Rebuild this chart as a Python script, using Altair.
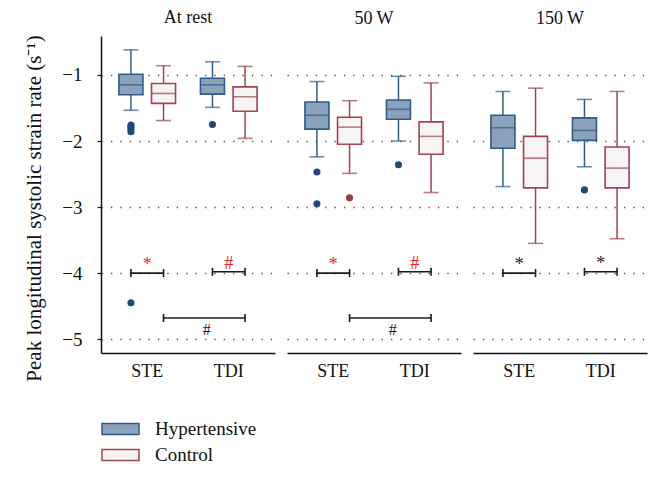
import altair as alt
import pandas as pd

# ---------------- data ----------------
conditions = ["At rest", "50 W", "150 W"]
methods = ["STE", "TDI"]
groups = ["Hypertensive", "Control"]

box_condition = ["At rest"] * 4 + ["50 W"] * 4 + ["150 W"] * 4
box_method = ["STE", "STE", "TDI", "TDI"] * 3
box_group = ["Hypertensive", "Control"] * 6
whisker_low = [-1.535, -1.69, -1.49, -1.96, -2.24, -2.49, -2.00, -2.78, -2.69, -3.55, -2.39, -3.48]
box_q1 = [-1.30, -1.43, -1.29, -1.55, -1.82, -2.05, -1.67, -2.20, -2.11, -2.71, -1.99, -2.71]
box_median = [-1.15, -1.28, -1.15, -1.33, -1.61, -1.79, -1.52, -1.93, -1.80, -2.26, -1.84, -2.41]
box_q3 = [-0.99, -1.13, -1.05, -1.18, -1.41, -1.64, -1.38, -1.71, -1.61, -1.93, -1.65, -2.09]
whisker_high = [-0.62, -0.86, -0.80, -0.87, -1.10, -1.39, -1.02, -1.12, -1.25, -1.20, -1.37, -1.25]

outlier_condition = ["At rest"] * 6 + ["50 W"] * 4 + ["150 W"]
outlier_method = ["STE"] * 5 + ["TDI"] + ["STE", "STE", "STE", "TDI"] + ["TDI"]
outlier_group = ["Hypertensive"] * 6 + ["Hypertensive", "Hypertensive", "Control", "Hypertensive"] + ["Hypertensive"]
outlier_value = [-1.76, -1.79, -1.82, -1.86, -4.45, -1.75, -2.47, -2.95, -2.86, -2.36, -2.74]

# significance: hypertensive vs control within each method
sig_condition = ["At rest", "At rest", "50 W", "50 W", "150 W", "150 W"]
sig_method = ["STE", "TDI", "STE", "TDI", "STE", "TDI"]
sig_symbol = ["*", "#", "*", "#", "*", "*"]
sig_highlight = [True, True, True, True, False, False]
sig_level = [-4.0, -3.98, -4.0, -3.98, -4.0, -3.98]

# significance: STE vs TDI in controls
pair_condition = ["At rest", "50 W"]
pair_symbol = ["#", "#"]
pair_level = [-4.68, -4.68]

# ---------------- tables ----------------
boxes = pd.DataFrame({
    "condition": box_condition, "method": box_method, "group": box_group,
    "low": whisker_low, "q1": box_q1, "median": box_median, "q3": box_q3, "high": whisker_high,
})
outliers = pd.DataFrame({
    "condition": outlier_condition, "method": outlier_method,
    "group": outlier_group, "value": outlier_value,
})
sig_rows = []
for c, m, s, h, lv in zip(sig_condition, sig_method, sig_symbol, sig_highlight, sig_level):
    for g in groups:
        sig_rows.append({"condition": c, "method": m, "group": g, "value": lv,
                         "id": c + m, "symbol": s, "highlight": h})
sig = pd.DataFrame(sig_rows)
pair_rows = []
for c, s, lv in zip(pair_condition, pair_symbol, pair_level):
    for m in methods:
        pair_rows.append({"condition": c, "method": m, "group": "Control", "value": lv,
                          "id": c, "symbol": s})
pairs = pd.DataFrame(pair_rows)

FONT = "Liberation Serif"
STROKE = ["#2f5c8b", "#a3434d"]
FILL = ["#8ca2ba", "#f6f4f4"]
DOT = ["#1d4a76", "#9c3a44"]
RED = "#e8262a"
INK = "#1a1a1a"

y_scale = alt.Scale(domain=[-5.21, -0.41], nice=False, zero=False)
x_scale = alt.Scale(domain=methods, paddingInner=0.6, paddingOuter=0.367)
xo_scale = alt.Scale(domain=groups, paddingInner=1, paddingOuter=0)
stroke_scale = alt.Scale(domain=groups, range=STROKE)
fill_scale = alt.Scale(domain=groups, range=FILL)

is_hyp = alt.datum.group == "Hypertensive"
line_color = alt.condition(is_hyp, alt.value(STROKE[0]), alt.value(STROKE[1]))
dot_color = alt.condition(is_hyp, alt.value(DOT[0]), alt.value(DOT[1]))


def panel(cond, first):
    b = boxes[boxes.condition == cond]
    o = outliers[outliers.condition == cond]
    s = sig[sig.condition == cond]
    p = pairs[pairs.condition == cond]

    grid_kw = dict(values=[-1, -2, -3, -4, -5], grid=True, gridDash=[1.4, 8],
                   gridColor="#555555", gridWidth=1.3)
    if first:
        y_axis = alt.Axis(**grid_kw, domain=True, domainColor="#111111", domainWidth=1.5,
                          ticks=True, tickSize=4, tickColor="#111111", tickWidth=1.2,
                          format="d", labelFontSize=19, labelPadding=15,
                          labelColor="#111111",
                          title="Peak longitudinal systolic strain rate (s\u207b\u00b9)",
                          titleFontSize=21, titleFontWeight="normal", titleColor="#111111",
                          titlePadding=17, titleY=172)
    else:
        y_axis = alt.Axis(**grid_kw, domain=False, ticks=False, labels=False, title=None)
    x_axis = alt.Axis(title=None, domain=True, domainColor="#111111", domainWidth=1.5,
                      ticks=False, labelFontSize=18, labelAngle=0, labelPadding=9,
                      labelColor="#111111", grid=False)

    X = alt.X("method:N", scale=x_scale, axis=x_axis)
    XO = alt.XOffset("group:N", scale=xo_scale)

    base = alt.Chart(b).encode(x=X, xOffset=XO)
    whisker = base.mark_rule(strokeWidth=1.5).encode(
        y=alt.Y("low:Q", scale=y_scale, axis=y_axis), y2="high:Q", color=line_color)
    cap_lo = base.mark_tick(size=15, thickness=1.6).encode(y="low:Q", color=line_color)
    cap_hi = base.mark_tick(size=15, thickness=1.6).encode(y="high:Q", color=line_color)
    box = base.mark_bar(size=24, strokeWidth=1.6).encode(
        y="q1:Q", y2="q3:Q",
        fill=alt.Fill("group:N", scale=fill_scale, legend=alt.Legend(title=None)),
        stroke=alt.Stroke("group:N", scale=stroke_scale, legend=alt.Legend(title=None)))
    med = base.mark_tick(size=24, thickness=1.6).encode(y="median:Q", color=line_color)

    dots = alt.Chart(o).mark_circle(size=50, opacity=1).encode(
        x=X, xOffset=XO, y="value:Q", color=dot_color)

    br_line = alt.Chart(s).mark_line(color=INK, strokeWidth=1.6).encode(
        x=X, xOffset=XO, y="value:Q", detail="id:N")
    br_cap = alt.Chart(s).mark_point(shape="M0,-1V1", size=64, color=INK,
                                     strokeWidth=1.6, opacity=1).encode(
        x=X, xOffset=XO, y="value:Q")
    br_text = alt.Chart(s).transform_filter(is_hyp).mark_text(
        font=FONT, fontSize=18, dy=-8).encode(
        x=X, y="value:Q", text="symbol:N",
        color=alt.condition(alt.datum.highlight, alt.value(RED), alt.value(INK)))

    layers = [whisker, cap_lo, cap_hi, box, med, dots, br_line, br_cap, br_text]

    if len(p):
        pr_line = alt.Chart(p).mark_line(color=INK, strokeWidth=1.6).encode(
            x=X, xOffset=XO, y="value:Q", detail="id:N")
        pr_cap = alt.Chart(p).mark_point(shape="M0,-1V1", size=64, color=INK,
                                         strokeWidth=1.6, opacity=1).encode(
            x=X, xOffset=XO, y="value:Q")
        pr_text = alt.Chart(p).transform_filter(alt.datum.method == "TDI").mark_text(
            font=FONT, fontSize=16, dx=-22, dy=12, color=INK).encode(
            x=X, y="value:Q", text="symbol:N")
        layers += [pr_line, pr_cap, pr_text]

    return alt.layer(*layers).properties(
        width=174, height=317,
        title=alt.TitleParams(cond, font=FONT, fontSize=18, fontWeight="normal",
                              color="#111111", offset=8))


chart = alt.hconcat(*[panel(c, i == 0) for i, c in enumerate(conditions)], spacing=12).configure(
    font=FONT, padding={"left": 15, "top": 0, "right": 2, "bottom": 2}
).configure_view(stroke=None).configure_axis(labelFont=FONT, titleFont=FONT).configure_legend(
    orient="bottom", direction="vertical", labelFont=FONT, labelFontSize=19,
    labelColor="#111111", symbolType="M-1,-0.3H1V0.3H-1Z", symbolSize=1369,
    symbolStrokeWidth=1.5, rowPadding=0, clipHeight=26, labelOffset=15, offset=34
).configure_title(anchor="middle")

chart.save("out.html", embed_options={"renderer": "svg", "actions": False})
